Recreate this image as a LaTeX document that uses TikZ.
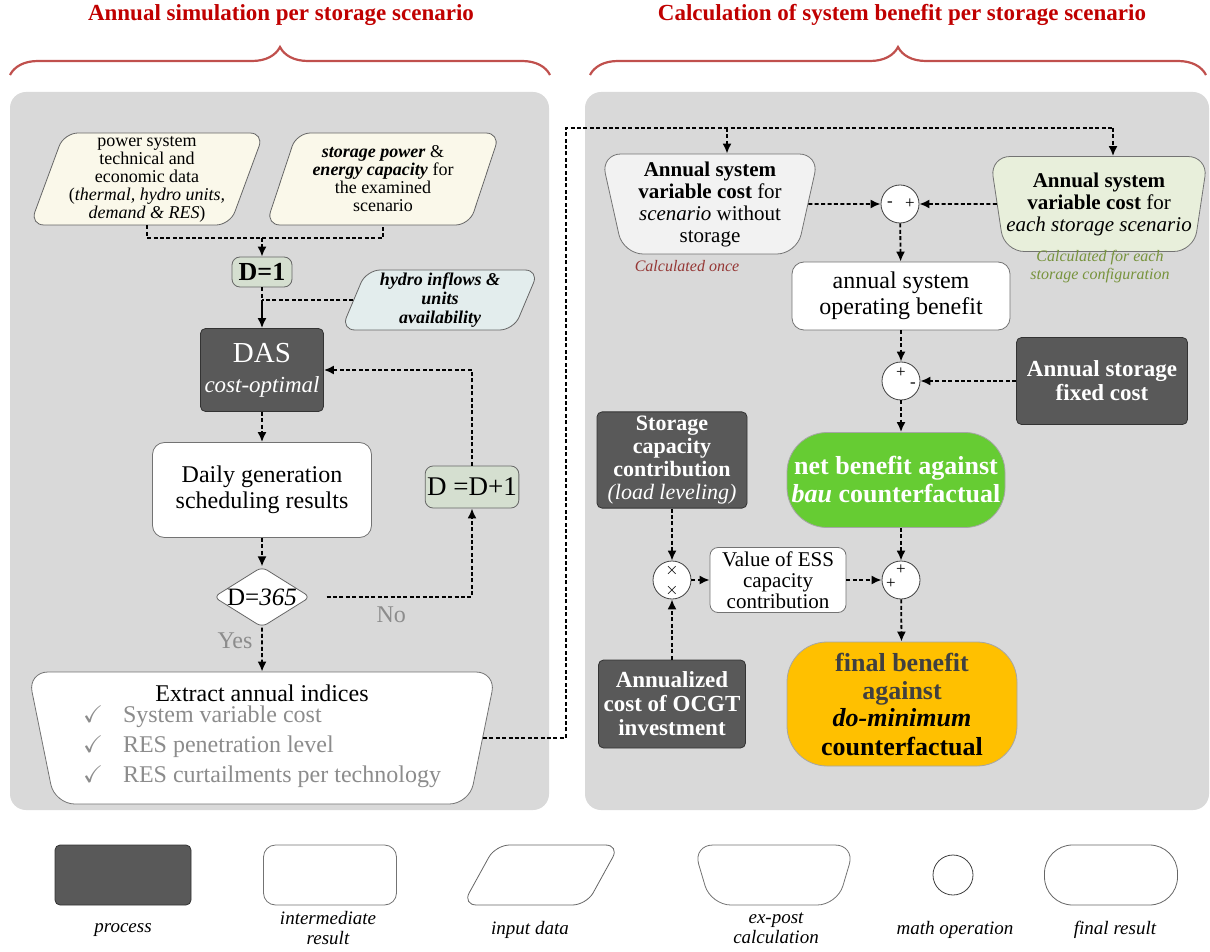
\documentclass[tikz,border=0pt]{standalone}
\usepackage{fontspec}
\setmainfont{Liberation Serif}
\usepackage{amssymb}
\usepackage{xcolor}
\usepackage{tikz}
\usetikzlibrary{positioning,shapes.geometric,arrows.meta,decorations.pathreplacing}
\definecolor{panel}{HTML}{D9D9D9}
\definecolor{procgray}{HTML}{595959}
\definecolor{cream}{HTML}{FAF8EA}
\definecolor{hydro}{HTML}{E3EDED}
\definecolor{ctrgreen}{HTML}{D5DFD0}
\definecolor{onceback}{HTML}{F2F2F2}
\definecolor{eachback}{HTML}{E8EFDB}
\definecolor{netgreen}{HTML}{66CC33}
\definecolor{finorange}{HTML}{FFC000}
\definecolor{fintext}{HTML}{404040}
\definecolor{titlered}{HTML}{C00000}
\definecolor{bracered}{HTML}{C0504D}
\definecolor{oncered}{HTML}{953735}
\definecolor{eachgreen}{HTML}{77933C}
\definecolor{softgray}{HTML}{8C8C8C}

\begin{document}
\begin{tikzpicture}[x=0.5pt, y=-0.5pt,
  proc/.style={draw=black!80, fill=procgray, rounded corners=2.5pt, text=white, align=center, inner sep=2pt},
  inter/.style={draw=black!55, fill=white, rounded corners=6pt, align=center, inner sep=2pt},
  indata/.style={trapezium, trapezium left angle=70, trapezium right angle=110, trapezium stretches=true,
                 draw=black!60, rounded corners=7pt, align=center, inner sep=1pt},
  expost/.style={trapezium, trapezium left angle=102, trapezium right angle=102, trapezium stretches=true,
                 draw=black!55, rounded corners=10pt, align=center, inner sep=1pt},
  mathop/.style={circle, draw=black!75, fill=white, minimum size=19pt, inner sep=0pt},
  final/.style={draw=black!35, rounded corners=20pt, align=center, inner sep=2pt},
  dcount/.style={draw=black!60, fill=ctrgreen, rounded corners=4pt, inner sep=1pt},
  flow/.style={dash pattern=on 2pt off 1.2pt, line width=0.9pt},
  flowarrow/.style={flow, -{Latex[length=5pt,width=4.5pt]}},
  note/.style={align=center, font=\fontsize{8}{9}\selectfont\itshape},
  legtext/.style={align=center, font=\fontsize{9.5}{10}\selectfont\itshape},
  title/.style={font=\fontsize{11.5}{12}\selectfont\bfseries, text=titlered},
  opsign/.style={font=\fontsize{8.5}{8.5}\selectfont, inner sep=0pt}
]
\useasboundingbox (0,0) rectangle (1210,952);
\fill[panel, rounded corners=8pt] (10,92) rectangle (549,810);
\fill[panel, rounded corners=8pt] (585,92) rectangle (1209,810);

\node[title] (lefttitle) at (281,15) {Annual simulation per storage scenario};
\node[title] (righttitle) at (902,15) {Calculation of system benefit per storage scenario};
\draw[bracered, line width=1.1pt, decorate, decoration={brace, amplitude=14pt}] (10,75) -- (550,75);
\draw[bracered, line width=1.1pt, decorate, decoration={brace, amplitude=14pt}] (590,75) -- (1206,75);

% annual simulation
\node[indata, fill=cream, minimum width=117pt, minimum height=46pt, font=\fontsize{9}{9}\selectfont]
  (sysdata) at (147,179) {power system\\technical and\\economic data\\(\textit{thermal, hydro units,}\\\textit{demand \& RES})};
\node[indata, fill=cream, minimum width=117pt, minimum height=46pt, font=\fontsize{9}{9}\selectfont]
  (stordata) at (383,179) {\textbf{\textit{storage power}} \&\\\textbf{\textit{energy capacity}} for\\the examined\\scenario};
\node[dcount, minimum width=30pt, minimum height=15pt, font=\fontsize{13}{13}\selectfont\bfseries] (dfirst) at (262,272) {D=1};
\node[indata, fill=hydro, minimum width=99pt, minimum height=30pt, font=\fontsize{9}{9.5}\selectfont\bfseries\itshape]
  (inflows) at (440,300) {hydro inflows \&\\units\\availability};
\node[proc, minimum width=59.5pt, minimum height=41.5pt, font=\fontsize{14.5}{15}\selectfont]
  (das) at (262,370) {DAS\\{\fontsize{11.5}{12}\selectfont\itshape cost-optimal}};
\node[inter, minimum width=109.5pt, minimum height=47.5pt, font=\fontsize{12}{13}\selectfont]
  (daily) at (262,490) {Daily generation\\scheduling results};
\node[diamond, aspect=1.6, draw=black!60, fill=white, rounded corners=3pt, minimum width=47.5pt, minimum height=30pt,
      inner sep=0pt, font=\fontsize{12.5}{13}\selectfont] (dlast) at (262,597) {D=\textit{365}};
\node[dcount, minimum width=45pt, minimum height=21pt, font=\fontsize{13.5}{14}\selectfont] (dnext) at (472,487) {D =D+1};
\node[expost, fill=white, minimum width=234.5pt, minimum height=66pt, font=\fontsize{12}{13.5}\selectfont]
  (annual) at (262,738) {Extract annual indices\\[-1pt]
  \textcolor{softgray}{\renewcommand{\arraystretch}{1.1}\begin{tabular}{@{}l@{\hspace{10pt}}l@{}}
  $\checkmark$ & System variable cost\\
  $\checkmark$ & RES penetration level\\
  $\checkmark$ & RES curtailments per technology
  \end{tabular}}};

% system benefit
\node[expost, fill=onceback, minimum width=110pt, minimum height=50pt, font=\fontsize{10.5}{11}\selectfont]
  (costonce) at (710,204) {\textbf{Annual system}\\\textbf{variable cost} for\\\textit{scenario} without\\storage};
\node[note, text=oncered] (oncenote) at (687,266) {Calculated once};
\node[expost, fill=eachback, minimum width=109pt, minimum height=47.5pt, font=\fontsize{10.5}{11}\selectfont]
  (costeach) at (1099,204) {\textbf{Annual system}\\\textbf{variable cost} for\\\textit{each storage scenario}};
\node[note, text=eachgreen] (eachnote) at (1100,267) {Calculated for each\\storage configuration};
\node[mathop] (minus) at (900,204) {};
\node[opsign] at ([xshift=-5pt]minus.center) {-};
\node[opsign] at ([xshift=5pt]minus.center) {+};
\node[inter, minimum width=109pt, minimum height=34pt, font=\fontsize{12}{13}\selectfont]
  (opben) at (901,296) {annual system\\operating benefit};
\node[mathop] (fixsub) at (901,381) {};
\node[opsign] at ([yshift=4pt]fixsub.center) {+};
\node[opsign] at ([xshift=6pt,yshift=-2pt]fixsub.center) {-};
\node[proc, minimum width=85.5pt, minimum height=43.5pt, font=\fontsize{11.5}{12}\selectfont\bfseries]
  (fixcost) at (1102,381) {Annual storage\\fixed cost};
\node[final, fill=netgreen, text=white, minimum width=109pt, minimum height=47.5pt, font=\fontsize{13}{14}\selectfont\bfseries]
  (netben) at (896,480) {net benefit against\\\textit{bau} counterfactual};
\node[proc, minimum width=75pt, minimum height=47.5pt, font=\fontsize{11}{11.5}\selectfont\bfseries]
  (capcon) at (672,460) {Storage\\capacity\\contribution\\{\mdseries\itshape(load leveling)}};
\node[mathop] (times) at (672,580) {};
\node[opsign] at ([yshift=5pt]times.center) {$\times$};
\node[opsign] at ([yshift=-5pt]times.center) {$\times$};
\node[inter, rounded corners=4pt, minimum width=68pt, minimum height=30pt, font=\fontsize{10.5}{10.5}\selectfont]
  (essval) at (778,580) {Value of ESS\\capacity\\contribution};
\node[mathop] (plus) at (901,580) {};
\node[opsign] at ([yshift=5pt]plus.center) {+};
\node[opsign] at ([xshift=-5pt,yshift=-2pt]plus.center) {+};
\node[final, fill=finorange, minimum width=115pt, minimum height=62pt, font=\fontsize{13}{14}\selectfont\bfseries]
  (finben) at (902,704) {\textcolor{fintext}{final benefit}\\\textcolor{fintext}{against}\\\textit{do-minimum}\\counterfactual};
\node[proc, minimum width=73.5pt, minimum height=44pt, font=\fontsize{11.5}{12}\selectfont\bfseries]
  (ocgt) at (672,704) {Annualized\\cost of OCGT\\investment};

% connectors
\coordinate (joinin) at (262,238);
\draw[flow] (sysdata) |- (joinin) -| (stordata);
\draw[flowarrow] (joinin) -- (dfirst);
\coordinate (joinhy) at (dfirst |- inflows.west);
\draw[flow] (dfirst) -- (joinhy);
\draw[flow] (inflows.west) -- (joinhy);
\draw[line width=0.9pt, -{Latex[length=5pt,width=4.5pt]}] (joinhy) -- (das);
\draw[flowarrow] (das) -- (daily);
\draw[flowarrow] (daily) -- (dlast);
\draw[flowarrow, shorten <=8pt] (dlast.east) -| (dnext)
  node[pos=0.25, below=1pt, text=softgray, font=\fontsize{12}{12}\selectfont] {No};
\draw[flowarrow] (dnext) |- (das);
\draw[flowarrow] (dlast) -- (annual)
  node[pos=0.3, left=1pt, text=softgray, font=\fontsize{12}{12}\selectfont] {Yes};
\coordinate (bus) at (566,128);
\coordinate (busonce) at (727,128);
\coordinate (buseach) at (1113,128);
\draw[flow] (annual.east) -| (bus) -- (buseach);
\draw[flowarrow] (buseach) -- (buseach |- costeach.north);
\draw[flowarrow] (busonce) -- (busonce |- costonce.north);
\draw[flowarrow] (costonce.east) -- (minus);
\draw[flowarrow] (costeach.west) -- (minus);
\draw[flowarrow] (minus) -- (opben);
\draw[flowarrow] (opben) -- (fixsub);
\draw[flowarrow] (fixcost) -- (fixsub);
\draw[flowarrow] (fixsub) -- (fixsub |- netben.north);
\draw[flowarrow] (netben.south -| plus) -- (plus);
\draw[flowarrow] (plus) -- (finben);
\draw[flowarrow] (capcon) -- (times);
\draw[flowarrow] (ocgt) -- (times);
\draw[flowarrow] (times) -- (essval);
\draw[flowarrow] (essval) -- (plus);

% legend
\node[proc, minimum width=68pt, minimum height=30pt] (legproc) at (123,875) {};
\node[inter, minimum width=66.5pt, minimum height=30pt] (leginter) at (330,875) {};
\node[indata, fill=white, minimum width=78.5pt, minimum height=30pt] (legin) at (541,875) {};
\node[expost, fill=white, trapezium left angle=98, trapezium right angle=98, minimum width=81pt, minimum height=30pt] (legexp) at (774,875) {};
\node[mathop, minimum size=20pt] (legop) at (953,875) {};
\node[final, fill=white, draw=black!60, rounded corners=14pt, minimum width=66.5pt, minimum height=30pt] (legfin) at (1111,875) {};
\node[legtext] at (123,930) {process};
\node[legtext] at (328,928) {intermediate\\result};
\node[legtext] at (530,930) {input data};
\node[legtext] at (776,928) {ex-post\\calculation};
\node[legtext] at (955,930) {math operation};
\node[legtext] at (1115,930) {final result};
\end{tikzpicture}
\end{document}
